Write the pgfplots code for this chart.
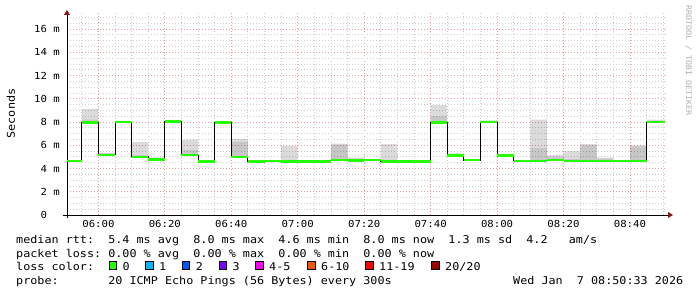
\documentclass[border=0pt]{standalone}
\usepackage{fontspec}
\usepackage{pgfplots}
\pgfplotsset{compat=1.18}
\usepackage{pgfplotstable}
\usepgfplotslibrary{fillbetween}
\usetikzlibrary{arrows.meta}
\newfontfamily\mono[FakeStretch=1.1]{DejaVu Sans Mono}
\newcommand\lfont{\mono\fontsize{10.7}{12}\selectfont\frenchspacing}
\newcommand\tfont{\mono\fontsize{9.7}{11}\selectfont}
\newcommand\wfont{\mono\fontsize{7.6}{9}\selectfont}
\definecolor{lgreen}{RGB}{38,255,0}
\definecolor{lone}{RGB}{0,184,255}
\definecolor{ltwo}{RGB}{0,89,255}
\definecolor{lthree}{RGB}{126,0,255}
\definecolor{lfour}{RGB}{255,0,255}
\definecolor{lsix}{RGB}{255,85,0}
\definecolor{leleven}{RGB}{255,0,0}
\definecolor{ltwenty}{RGB}{161,0,0}
\definecolor{gridminor}{RGB}{205,205,205}
\definecolor{gridmajor}{RGB}{238,155,155}
\definecolor{arrowred}{RGB}{150,20,20}
\definecolor{wm}{RGB}{175,175,175}
\definecolor{framecol}{RGB}{200,200,170}
\pgfplotstableread{
x med hi mid
-9.45 4.65 4.65 4.65
-5 7.95 9.10 8.20
0 5.17 5.35 5.30
5 8.00 8.10 8.05
10 5.00 6.28 5.15
15 4.77 4.95 4.90
20 8.02 8.10 8.05
25 5.15 6.48 5.60
30 4.60 4.70 4.65
35 7.95 8.00 7.95
40 5.00 6.55 6.30
45 4.60 4.70 4.60
50 4.65 4.65 4.65
55 4.60 5.95 4.70
60 4.60 4.65 4.60
65 4.60 4.65 4.60
70 4.72 6.15 6.05
75 4.68 4.93 4.85
80 4.72 4.75 4.72
85 4.60 6.10 4.75
90 4.60 4.60 4.60
95 4.60 4.60 4.60
100 7.95 9.45 8.50
105 5.10 5.30 5.20
110 4.72 4.72 4.72
115 8.00 8.15 8.05
120 5.10 5.20 5.15
125 4.65 4.65 4.65
130 4.65 8.20 5.75
135 4.72 5.15 5.00
140 4.65 5.50 4.80
145 4.65 6.10 6.00
150 4.65 4.93 4.85
155 4.65 4.70 4.65
160 4.65 6.00 5.90
165 8.00 8.20 8.10
170.55 8.00 8.20 8.10
}\data
\begin{document}
\begin{tikzpicture}[x=1pt,y=1pt]
\begin{axis}[
  at={(67pt,82pt)}, anchor=south west,
  width=598pt, height=202pt, scale only axis,
  xmin=-9.45, xmax=170.55, ymin=0, ymax=17.38,
  axis lines=left,
  axis line style={black, line width=0.9pt},
  x axis line style={-{Triangle[length=5pt,width=6pt,color=arrowred]}, shorten >=-8pt, shorten <=-4pt},
  y axis line style={-{Triangle[length=5pt,width=6pt,color=arrowred]}, shorten >=-3pt, shorten <=-3pt},
  xtick={0,20,...,160},
  xticklabels={06:00,06:20,06:40,07:00,07:20,07:40,08:00,08:20,08:40},
  minor xtick={-5,5,10,15,25,30,35,45,50,55,65,70,75,85,90,95,105,110,115,125,130,135,145,150,155,165,170},
  ytick={0,2,...,16},
  yticklabels={0\phantom{mm},2~m,4~m,6~m,8~m,10~m,12~m,14~m,16~m},
  minor ytick={0.5,1,1.5,2.5,3,3.5,4.5,5,5.5,6.5,7,7.5,8.5,9,9.5,10.5,11,11.5,12.5,13,13.5,14.5,15,15.5,16.5,17},
  major tick length=0pt, minor tick length=0pt,
  grid=both,
  minor grid style={gridminor, line width=0.8pt, dash pattern=on 1pt off 2pt},
  major grid style={gridmajor, line width=0.8pt, dash pattern=on 1pt off 2pt},
  xticklabel style={font=\tfont, anchor=center, inner sep=0pt, yshift=-9pt},
  yticklabel style={font=\tfont, anchor=east, inner sep=0pt, xshift=-7pt},
]
\addplot[name path=H, draw=none, const plot mark left, forget plot] table[x=x,y=hi]{\data};
\addplot[name path=M, draw=none, const plot mark left, forget plot] table[x=x,y=mid]{\data};
\addplot[name path=D, draw=none, const plot mark left, forget plot] table[x=x,y=med]{\data};
\addplot[fill=black, fill opacity=0.14, draw=none] fill between[of=H and D];
\addplot[fill=black, fill opacity=0.09, draw=none] fill between[of=M and D];
\addplot[black, line width=1pt, const plot mark left] table[x=x,y=med]{\data};
\addplot[lgreen, line width=2.6pt, jump mark left] table[x=x,y=med]{\data};
\draw[framecol, line width=0.8pt] (rel axis cs:1,0) -- (rel axis cs:1,1);
\end{axis}
\node[rotate=90, inner sep=0pt, font=\lfont] at (11,183.5) {Seconds};
\node[rotate=-90, anchor=north west, inner sep=0pt, font=\wfont, text=wm] at (692,292) {RRDTOOL / TOBI OETIKER};
\node[anchor=base west, inner sep=0pt, font=\lfont] at (16,53.8) {median rtt:\ \ 5.4 ms avg\ \ 8.0 ms max\ \ 4.6 ms min\ \ 8.0 ms now\ \ 1.3 ms sd\ \ 4.2\ \ \ am/s};
\node[anchor=base west, inner sep=0pt, font=\lfont] at (16,39.95) {packet loss: 0.00 \% avg\ \ 0.00 \% max\ \ 0.00 \% min\ \ 0.00 \% now};
\node[anchor=base west, inner sep=0pt, font=\lfont] at (16,26.1) {loss color:};
\node[anchor=base west, inner sep=0pt, font=\lfont] at (16,12.25) {probe:\ \ \ \ \ \ \ 20 ICMP Echo Pings (56 Bytes) every 300s};
\node[anchor=base west, inner sep=0pt, font=\lfont] at (513,12.25) {Wed Jan\ \ 7 08:50:33 2026};
\draw[fill=lgreen, line width=0.8pt] (109,28) rectangle (116.5,36);
\node[anchor=base west, inner sep=0pt, font=\lfont] at (122.3,26.1) {0};
\draw[fill=lone, line width=0.8pt] (145.7,28) rectangle (153.2,36);
\node[anchor=base west, inner sep=0pt, font=\lfont] at (159,26.1) {1};
\draw[fill=ltwo, line width=0.8pt] (182.3,28) rectangle (189.8,36);
\node[anchor=base west, inner sep=0pt, font=\lfont] at (195.6,26.1) {2};
\draw[fill=lthree, line width=0.8pt] (219,28) rectangle (226.5,36);
\node[anchor=base west, inner sep=0pt, font=\lfont] at (232.3,26.1) {3};
\draw[fill=lfour, line width=0.8pt] (255.7,28) rectangle (263.2,36);
\node[anchor=base west, inner sep=0pt, font=\lfont] at (269,26.1) {4-5};
\draw[fill=lsix, line width=0.8pt] (307.7,28) rectangle (315.2,36);
\node[anchor=base west, inner sep=0pt, font=\lfont] at (321,26.1) {6-10};
\draw[fill=leleven, line width=0.8pt] (365.7,28) rectangle (373.2,36);
\node[anchor=base west, inner sep=0pt, font=\lfont] at (379,26.1) {11-19};
\draw[fill=ltwenty, line width=0.8pt] (431.7,28) rectangle (439.2,36);
\node[anchor=base west, inner sep=0pt, font=\lfont] at (445,26.1) {20/20};
\pgfresetboundingbox
\path[use as bounding box] (0,0) rectangle (697,297);
\end{tikzpicture}
\end{document}
